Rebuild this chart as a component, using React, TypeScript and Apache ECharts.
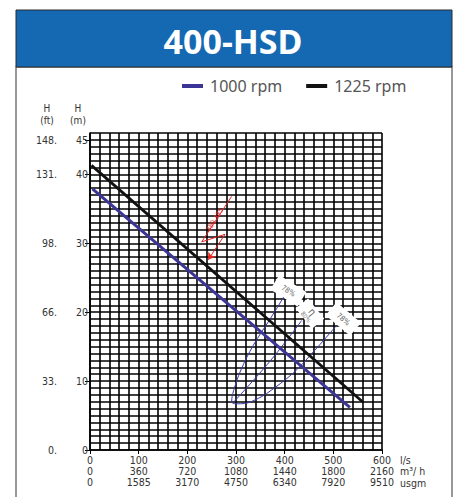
import React, { useEffect, useRef } from 'react';
import * as echarts from 'echarts';

// ---- data ----
const flowLs = [0, 100, 200, 300, 400, 500, 600];
const flowM3h = ['0', '360', '720', '1080', '1440', '1800', '2160'];
const flowUsgm = ['0', '1585', '3170', '4750', '6340', '7920', '9510'];
const flowUnits = ['l/s', 'm³/ h', 'usgm'];
const headM = [0, 10, 20, 30, 40, 45];
const headFt = ['0.', '33.', '66.', '98.', '131.', '148.'];
const headTitles = ['H\n(ft)', 'H\n(m)'];
const seriesNames = ['1000 rpm', '1225 rpm'];
const curve1000 = [[5, 37.9], [534, 6.2]];
const curve1225 = [[3, 41.3], [560, 7.0]];
const effIsoLine = [
  [398, 22.2], [370, 19.0], [335.6, 15.2], [310, 11.6], [295, 8.6], [291, 7.0],
  [300, 6.7], [318, 6.75], [340, 7.3], [363, 8.2], [418, 11.2], [466, 14.8], [507, 18.1],
];
const eff80Line = [[435, 18.8], [370, 12.9], [294.5, 6.9]];
const speedArrow = [[291, 36.8], [229.5, 30.2], [277.4, 31.3], [243, 27.6]];
const speedText = '380 385';
const speedTextAt = [257, 33.4];
const effLabels = [
  { text: '78%', q: 407.5, h: 23.1, rot: -0.56, w: 32, hgt: 17 },
  { text: 'η', sub: '80%', q: 452, h: 19.8, rot: -0.9, w: 26, hgt: 16 },
  { text: '78%', q: 520.5, h: 19.0, rot: -0.7, w: 32, hgt: 17 },
];

const AXIS_FONT = '"DejaVu Sans Condensed", "DejaVu Sans", sans-serif';
const GRID_LINE = { color: '#000', width: 1.6 };

export default function App() {
  const ref = useRef<HTMLDivElement>(null);
  useEffect(() => {
    if (!ref.current) return;
    const chart = echarts.init(ref.current, undefined, { renderer: 'svg' });
    chart.setOption({
      animation: false,
      backgroundColor: '#fff',
      legend: {
        data: seriesNames,
        left: 177,
        top: 73,
        icon: 'rect',
        itemWidth: 21,
        itemHeight: 4,
        itemGap: 24,
        textStyle: { fontFamily: '"Noto Sans", sans-serif', fontSize: 16, color: '#555', padding: [0, 0, 0, 2] },
      },
      grid: { left: 90, right: 77, top: 133, bottom: 47, containLabel: false },
      xAxis: [
        {
          type: 'value', min: 0, max: 600, interval: 20, position: 'bottom',
          axisLine: { show: true, lineStyle: GRID_LINE },
          axisTick: { show: false }, axisLabel: { show: false },
          splitLine: { show: true, lineStyle: GRID_LINE },
        },
        {
          type: 'value', min: 0, max: 600, position: 'bottom', offset: 0,
          axisLine: { show: false }, splitLine: { show: false },
          axisTick: { show: true, customValues: flowLs, length: 4, lineStyle: { color: '#000' } },
          axisLabel: {
            customValues: flowLs, margin: 4, color: '#333', fontSize: 10.5, lineHeight: 11.3,
            fontFamily: AXIS_FONT,
            formatter: (v: number) => {
              const i = flowLs.indexOf(v);
              return i < 0 ? '' : `${flowLs[i]}\n${flowM3h[i]}\n${flowUsgm[i]}`;
            },
          },
        },
      ],
      yAxis: [
        {
          type: 'value', min: 0, max: 46, interval: 1, position: 'left',
          axisLine: { show: true, lineStyle: GRID_LINE },
          axisTick: { show: false }, axisLabel: { show: false },
          splitLine: { show: true, lineStyle: GRID_LINE },
        },
        {
          type: 'value', min: 0, max: 46, position: 'left', offset: 0,
          axisLine: { show: false }, splitLine: { show: false },
          axisTick: { show: true, customValues: headM, length: 5, lineStyle: { color: '#000' } },
          axisLabel: { customValues: headM, margin: 2, color: '#333', fontSize: 10.5, fontFamily: AXIS_FONT },
        },
        {
          type: 'value', min: 0, max: 46, position: 'left', offset: 33,
          axisLine: { show: false }, axisTick: { show: false }, splitLine: { show: false },
          axisLabel: {
            customValues: headM, margin: 0, color: '#333', fontSize: 10.5, fontFamily: AXIS_FONT,
            formatter: (v: number) => headFt[headM.indexOf(v)] ?? '',
          },
        },
      ],
      series: [
        { name: seriesNames[0], type: 'line', data: curve1000, symbol: 'none', lineStyle: { color: '#3c3596', width: 3 }, itemStyle: { color: '#3c3596' }, z: 5 },
        { name: seriesNames[1], type: 'line', data: curve1225, symbol: 'none', lineStyle: { color: '#111', width: 2.8 }, itemStyle: { color: '#111' }, z: 5 },
        { name: 'eff78', type: 'line', data: effIsoLine, symbol: 'none', smooth: 0.35, lineStyle: { color: '#3a3aa8', width: 1 }, z: 4 },
        { name: 'eff80', type: 'line', data: eff80Line, symbol: 'none', smooth: 0.4, lineStyle: { color: '#3a3aa8', width: 1 }, z: 4 },
        {
          name: 'speed', type: 'line', data: speedArrow.slice(0, 3), symbol: 'none',
          lineStyle: { color: '#e8231f', width: 1 }, z: 6,
          markLine: {
            silent: true, symbol: ['none', 'arrow'], symbolSize: 7,
            lineStyle: { color: '#e8231f', width: 1, type: 'solid' }, label: { show: false },
            data: [[{ coord: speedArrow[2] }, { coord: speedArrow[3] }]],
          },
        },
      ],
    });

    const px = (q: number, h: number) => chart.convertToPixel({ xAxisIndex: 0, yAxisIndex: 0 }, [q, h]) as number[];
    const graphics: any[] = [
      { type: 'rect', shape: { x: 16, y: 67, width: 436, height: 440 }, style: { fill: 'none', stroke: '#777', lineWidth: 1.5 }, z: 1 },
      { type: 'rect', shape: { x: 16, y: 10, width: 436, height: 57 }, style: { fill: '#1469b2', stroke: '#2a2a2a', lineWidth: 1 }, z: 1 },
      { type: 'text', x: 233, y: 41, style: { text: '400-HSD', fill: '#fff', font: 'bold 34px "Noto Sans", sans-serif', textAlign: 'center', textVerticalAlign: 'middle' }, z: 2 },
    ];
    headTitles.forEach((t, i) => {
      graphics.push({ type: 'text', x: i === 0 ? 47 : 78, y: 114, z: 3, style: { text: t, fill: '#333333', fontFamily: AXIS_FONT, fontSize: 10, lineHeight: 12, align: 'center', verticalAlign: 'middle' } });
    });
    flowUnits.forEach((u, i) => {
      graphics.push({ type: 'text', x: 400, y: 460 + i * 11.3, style: { text: u, fill: '#333', font: '10.5px ' + AXIS_FONT, textAlign: 'left', textVerticalAlign: 'middle' } });
    });
    effLabels.forEach((l) => {
      const [x, y] = px(l.q, l.h);
      const children: any[] = [
        { type: 'rect', shape: { x: -l.w / 2, y: -l.hgt / 2, width: l.w, height: l.hgt }, style: { fill: '#fff' } },
      ];
      if (l.sub) {
        children.push({ type: 'text', x: 0, y: -3, style: { text: l.text, fill: '#555', font: '10px ' + AXIS_FONT, textAlign: 'center', textVerticalAlign: 'middle' } });
        children.push({ type: 'text', x: 0, y: 5, style: { text: l.sub, fill: '#777', font: '6px ' + AXIS_FONT, textAlign: 'center', textVerticalAlign: 'middle' } });
      } else {
        children.push({ type: 'text', x: 0, y: 0, style: { text: l.text, fill: '#666', font: '7.5px ' + AXIS_FONT, textAlign: 'center', textVerticalAlign: 'middle' } });
      }
      graphics.push({ type: 'group', x, y, rotation: l.rot, z: 10, children });
    });
    const [tx, ty] = px(speedTextAt[0], speedTextAt[1]);
    graphics.push({ type: 'text', x: tx, y: ty, rotation: 1.01, z: 10, style: { text: speedText, fill: '#e8231f', font: '7px ' + AXIS_FONT, textAlign: 'center', textVerticalAlign: 'middle' } });
    chart.setOption({ graphic: graphics });

    return () => chart.dispose();
  }, []);
  return <div ref={ref} style={{ position: 'fixed', left: 0, top: 0, width: 459, height: 497 }} />;
}
